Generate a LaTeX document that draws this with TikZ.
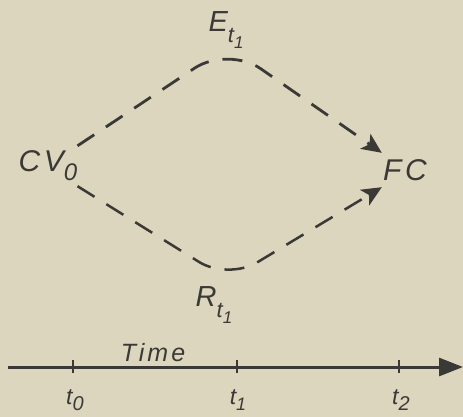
\documentclass[tikz,border=0pt]{standalone}
\usepackage{fontspec}
\setmainfont{Liberation Sans}
\usetikzlibrary{arrows.meta}
\definecolor{paper}{HTML}{DCD6BE}
\definecolor{ink}{HTML}{3A3935}
\newcommand{\lowidx}[3]{\raisebox{#1}{\fontsize{#2}{#2}\selectfont #3}}
\tikzset{
  lbl/.style={inner sep=0pt, text=ink, font=\itshape\addfontfeatures{LetterSpace=12}},
  conn/.style={draw=ink, line width=2.8pt, dash pattern=on 20pt off 14pt, rounded corners=40pt,
    -{Stealth[length=20pt,width=18pt,inset=5pt]}},
  axis/.style={draw=ink, line width=3pt, -{Triangle[length=24pt,width=18pt]}},
  tick/.style={draw=ink, line width=1.2pt}
}
\begin{document}
\begin{tikzpicture}[x=1pt,y=-1pt]
\fill[paper] (0,0) rectangle (463,417);
\useasboundingbox (0,0) rectangle (463,417);
% nodes
\node[lbl, minimum width=50pt, minimum height=40pt] (cv) at (48,166)
  {\fontsize{30}{30}\selectfont CV\lowidx{-9pt}{24}{0}};
\node[lbl, minimum width=46pt, minimum height=34pt] (fc) at (405,170)
  {\fontsize{30}{30}\selectfont FC};
\node[lbl] (e) at (226,30)
  {\fontsize{29}{29}\selectfont E\lowidx{-11pt}{22}{t\lowidx{-6pt}{17}{1}}};
\node[lbl] (r) at (214,305)
  {\fontsize{29}{29}\selectfont R\lowidx{-11pt}{22}{t\lowidx{-6pt}{17}{1}}};
\coordinate (etop) at (228,46);
\coordinate (rbot) at (228,280);
% connectors
\draw[conn] (cv.north east) -- (etop) -- (fc.north west);
\draw[conn, line width=2.5pt, rounded corners=34pt] (cv.south east) -- (rbot) -- (fc.south west);
% time axis
\coordinate (ax0) at (8,367);
\coordinate (ax1) at (463,367);
\draw[axis] (ax0) -- (ax1);
\coordinate (k0) at (73,367);
\coordinate (k1) at (237,367);
\coordinate (k2) at (399,367);
\foreach \k in {k0,k1,k2} \draw[tick] ([yshift=-6pt]\k) -- ([yshift=7pt]\k);
\node[lbl] (time) at (153,353) {\fontsize{25}{25}\selectfont Time};
\node[lbl] (l0) at (75,400) {\fontsize{23}{23}\selectfont t\lowidx{-6pt}{20}{0}};
\node[lbl] (l1) at (238,400) {\fontsize{23}{23}\selectfont t\lowidx{-6pt}{18}{1}};
\node[lbl] (l2) at (401,400) {\fontsize{23}{23}\selectfont t\lowidx{-6pt}{20}{2}};
\end{tikzpicture}
\end{document}
